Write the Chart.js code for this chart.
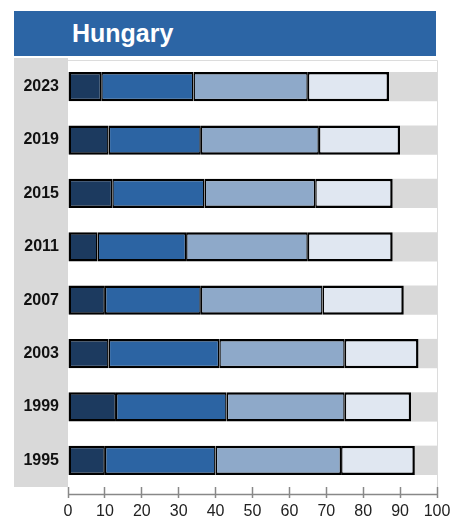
<!DOCTYPE html>
<html>
<head>
<meta charset="utf-8">
<script src="https://cdn.jsdelivr.net/npm/chart.js@4"></script>
<style>
  body { margin: 0; background: #fff; }
  #title { position: absolute; left: 14px; top: 11px; width: 422px; height: 45px; background: #2c65a5; color: #fff;
    font: bold 25px 'Liberation Sans', Arial, sans-serif; line-height: 45px; padding-left: 58px; box-sizing: border-box; }
  #wrap { position: absolute; left: 14px; top: 56px; width: 438px; height: 464px; }
</style>
</head>
<body>
<div id="title">Hungary</div>
<div id="wrap"><canvas id="c"></canvas></div>
<script>
const years = ['2023', '2019', '2015', '2011', '2007', '2003', '1999', '1995'];
const seg1 = [9, 11, 12, 8, 10, 11, 13, 10];
const seg2 = [25, 25, 25, 24, 26, 30, 30, 30];
const seg3 = [31, 32, 30, 33, 33, 34, 32, 34];
const seg4 = [22, 22, 21, 23, 22, 20, 18, 20];
const xTicks = [0, 10, 20, 30, 40, 50, 60, 70, 80, 90, 100];

// rest of the row up to 100, shown as the grey band
const rest = years.map((y, i) => 100 - seg1[i] - seg2[i] - seg3[i] - seg4[i]);

const frame = {
  id: 'frame',
  beforeDraw(chart) {
    const { ctx, chartArea: a } = chart;
    ctx.save();
    ctx.fillStyle = '#d9d9d9';
    ctx.fillRect(0, 2, a.left, a.bottom - 2);
    ctx.strokeStyle = '#dcdcdc';
    ctx.lineWidth = 1;
    ctx.beginPath();
    ctx.moveTo(a.left, a.top + 0.5); ctx.lineTo(a.right + 0.5, a.top + 0.5); ctx.lineTo(a.right + 0.5, a.bottom);
    ctx.stroke();
    ctx.restore();
  },
  afterDraw(chart) {
    const { ctx } = chart, x = chart.scales.x;
    const y = Math.round(x.top + 7) + 0.5;
    ctx.save();
    ctx.strokeStyle = '#888';
    ctx.lineWidth = 1.5;
    ctx.beginPath(); ctx.moveTo(x.left, y); ctx.lineTo(x.right, y); ctx.stroke();
    ctx.restore();
  }
};

const bw = (l, r) => ({ top: 2.5, bottom: 2.5, left: l, right: r });
const ds = (data, color, border) => ({ data, backgroundColor: color, borderColor: '#000', borderWidth: border, borderSkipped: false });

new Chart(document.getElementById('c'), {
  type: 'bar',
  data: {
    labels: years,
    datasets: [
      ds(seg1, '#1c3a5f', bw(2.5, 1.5)),
      ds(seg2, '#2c64a3', bw(1.5, 1.5)),
      ds(seg3, '#8ea9c9', bw(1.5, 1.5)),
      ds(seg4, '#e0e7f1', bw(1.5, 2.5)),
      { data: rest, backgroundColor: '#d9d9d9', borderWidth: 0 }
    ]
  },
  options: {
    indexAxis: 'y',
    responsive: true,
    maintainAspectRatio: false,
    animation: false,
    categoryPercentage: 1,
    barPercentage: 0.55,
    layout: { padding: { top: 4, right: 15, bottom: 0 } },
    plugins: { legend: { display: false }, tooltip: { enabled: false } },
    scales: {
      x: {
        stacked: true, min: 0, max: 100,
        afterBuildTicks: s => { s.ticks = xTicks.map(v => ({ value: v })); },
        afterFit: s => { s.height = 33; s.paddingLeft = 0; s.paddingRight = 0; },
        ticks: { color: '#222', font: { family: "'Liberation Sans', Arial", size: 16, lineHeight: 1 }, padding: 6 },
        grid: { drawOnChartArea: false, tickLength: 11, tickColor: '#888', tickWidth: 1.5 },
        border: { display: false }
      },
      y: {
        stacked: true,
        afterFit: s => { s.width = 54; s.paddingTop = 0; s.paddingBottom = 0; },
        ticks: { color: '#111', font: { family: "'Liberation Sans', Arial", size: 16, weight: 'bold' }, padding: 9 },
        grid: { display: false, drawTicks: false },
        border: { display: false }
      }
    }
  },
  plugins: [frame]
});
</script>
</body>
</html>
